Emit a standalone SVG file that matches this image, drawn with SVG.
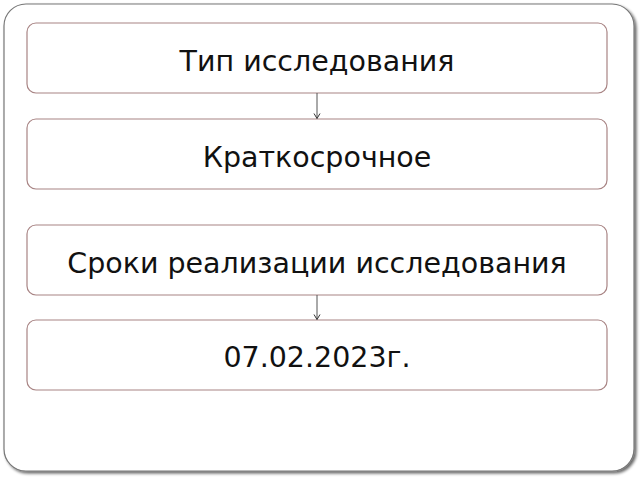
<svg xmlns="http://www.w3.org/2000/svg" width="640" height="480" viewBox="0 0 640 480">
<defs>
<marker id="arr" markerWidth="8" markerHeight="8" refX="7" refY="4" orient="auto" markerUnits="userSpaceOnUse" viewBox="0 0 8 8">
<path d="M2,1 L7,4 L2,7" fill="none" stroke="#333" stroke-width="1"/>
</marker>
<filter id="sh" x="-5%" y="-5%" width="110%" height="110%">
<feGaussianBlur in="SourceAlpha" stdDeviation="1.5"/>
<feOffset dx="2" dy="2"/>
<feComponentTransfer><feFuncA type="linear" slope="0.6"/></feComponentTransfer>
<feMerge><feMergeNode/><feMergeNode in="SourceGraphic"/></feMerge>
</filter>
</defs>
<style>
.box{fill:#fff;stroke:#a88484;stroke-width:1.2}
.t{font-family:"DejaVu Sans",sans-serif;font-size:28.5px;fill:#111;text-anchor:middle}
.c{stroke:#555;stroke-width:1;fill:none}
</style>
<rect width="640" height="480" fill="#fff"/>
<rect id="frame" x="4" y="4" width="630" height="467" rx="22" fill="#fff" stroke="#777" stroke-width="1.2" filter="url(#sh)"/>
<g id="n1"><rect class="box" x="27" y="23" width="580" height="70" rx="9"/><text class="t" x="317" y="70.5">Тип исследования</text></g>
<g id="n2"><rect class="box" x="27" y="119" width="580" height="70" rx="9"/><text class="t" x="317" y="166.5">Краткосрочное</text></g>
<g id="n3"><rect class="box" x="27" y="225" width="580" height="70" rx="9"/><text class="t" x="317" y="273">Сроки реализации исследования</text></g>
<g id="n4"><rect class="box" x="27" y="320" width="580" height="70" rx="9"/><text class="t" x="317" y="366.5">07.02.2023г.</text></g>
<g id="connectors">
<line class="c" x1="317" y1="93" x2="317" y2="118.5" marker-end="url(#arr)"/>
<line class="c" x1="317" y1="295" x2="317" y2="319.5" marker-end="url(#arr)"/>
</g>
</svg>
